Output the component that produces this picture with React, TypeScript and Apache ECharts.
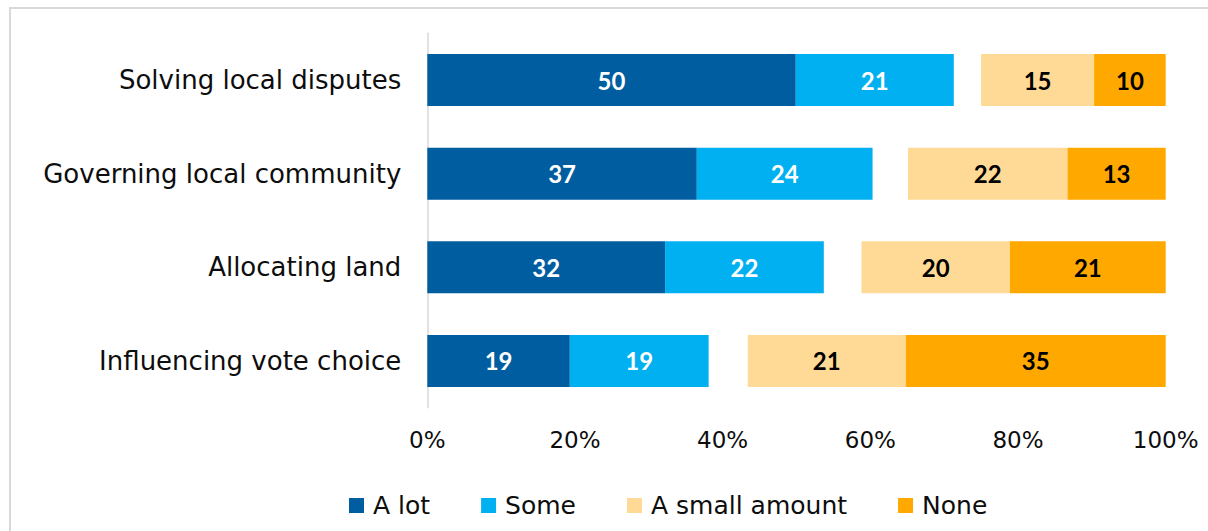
import React, { useEffect, useRef } from "react";
import * as echarts from "echarts";

const categories = [
  "Solving local disputes",
  "Governing local community",
  "Allocating land",
  "Influencing vote choice",
];
const aLot = [49.9, 36.5, 32.2, 19.3];
const some = [21.4, 23.8, 21.5, 18.8];
const gap = [3.7, 4.8, 5.1, 5.3];
const smallAmount = [15.3, 21.6, 20.1, 21.4];
const none = [9.7, 13.3, 21.1, 35.2];
const xTicks = [0, 20, 40, 60, 80, 100];

const FONT = "DejaVu Sans";
const VFONT = "Lato";

export default function App() {
  const ref = useRef<HTMLDivElement>(null);
  useEffect(() => {
    if (!ref.current) return;
    const chart = echarts.init(ref.current, null, { renderer: "svg" });
    const valLabel = (color: string) => ({
      show: true,
      position: "inside",
      color,
      fontFamily: VFONT,
      fontWeight: "bold",
      fontSize: 24,
      formatter: (p: any) => String(Math.round(p.value)),
    });
    const mk = (name: string, data: number[], color: string, lblColor: string) => ({
      name,
      type: "bar",
      stack: "total",
      barWidth: 52,
      data,
      itemStyle: { color },
      label: valLabel(lblColor),
    });
    chart.setOption({
      animation: false,
      textStyle: { fontFamily: FONT },
      graphic: [
        {
          type: "rect",
          shape: { x: 10, y: 8, width: 1400, height: 700 },
          style: { fill: "none", stroke: "#D9D9D9", lineWidth: 2 },
          silent: true,
        },
      ],
      grid: { left: 427.3, right: 42.3, top: 33.2, bottom: 123.2 },
      legend: {
        data: ["A lot", "Some", "A small amount", "None"],
        left: 344,
        top: 488,
        icon: "rect",
        itemWidth: 15,
        itemHeight: 15,
        itemGap: 51,
        textStyle: { fontFamily: FONT, fontSize: 25, color: "#0d0d0d", padding: [0, 0, 0, 4] },
      },
      xAxis: {
        type: "value",
        min: xTicks[0],
        max: xTicks[xTicks.length - 1],
        interval: 20,
        axisLine: { show: false },
        axisTick: { show: false },
        splitLine: { show: false },
        axisLabel: {
          formatter: "{value}%",
          fontFamily: FONT,
          fontSize: 23,
          color: "#0d0d0d",
          margin: 21,
        },
      },
      yAxis: {
        type: "category",
        inverse: true,
        data: categories,
        axisLine: { show: true, lineStyle: { color: "#D9D9D9", width: 1.5 } },
        axisTick: { show: false },
        axisLabel: { fontFamily: FONT, fontSize: 26, color: "#0d0d0d", margin: 26 },
      },
      series: [
        mk("A lot", aLot, "#005DA0", "#ffffff"),
        mk("Some", some, "#00B0F0", "#ffffff"),
        {
          name: "gap",
          type: "bar",
          stack: "total",
          barWidth: 52,
          data: gap,
          itemStyle: { color: "transparent" },
          silent: true,
          label: { show: false },
        },
        mk("A small amount", smallAmount, "#FFDA96", "#000000"),
        mk("None", none, "#FFA900", "#000000"),
      ],
    });
    return () => chart.dispose();
  }, []);
  return (
    <div
      ref={ref}
      style={{ position: "fixed", left: 0, top: 0, width: 1208, height: 531, background: "#fff" }}
    />
  );
}
